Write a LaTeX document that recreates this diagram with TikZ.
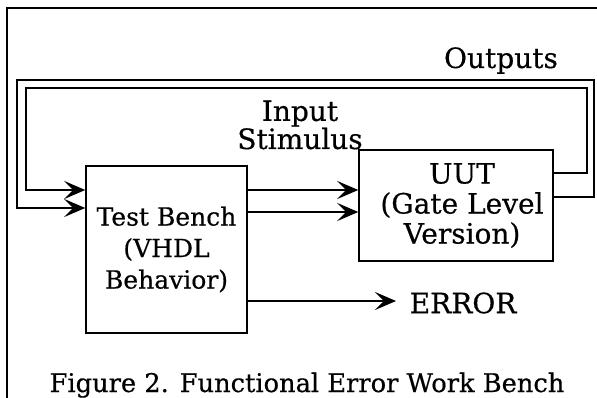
\documentclass[tikz,border=0pt]{standalone}
\usepackage{fontspec}
\setmainfont{DejaVu Serif}[UprightFeatures={FakeBold=0.5}]
\usetikzlibrary{arrows.meta}
\begin{document}
\begin{tikzpicture}[x=1pt,y=-1pt,
  line width=1.5pt,
  every node/.style={inner sep=0pt},
  box/.style={draw, align=center, font=\fontsize{28}{30}\selectfont},
  lbl/.style={align=center, font=\fontsize{28}{27}\selectfont},
  arr/.style={-{Stealth[length=21pt,width=18pt,inset=9pt]}}]
\useasboundingbox (0,0) rectangle (597,398);
% frame
\draw (7,398) -- (7,8) -- (597,8);
% boxes
\node[box, minimum width=161pt, minimum height=167pt, font=\fontsize{25}{31.5}\selectfont] (tb) at (166.5,249.5) {Test Bench\\(VHDL\\Behavior)};
\node[box, minimum width=194pt, minimum height=111pt] (uut) at (456,205.5) {\hspace*{12pt}UUT\\\hspace*{12pt}(Gate Level\\\hspace*{12pt}Version)};
% labels
\node[lbl, anchor=base] (outl) at (501,68) {Outputs};
\node[lbl, anchor=base] (inl) at (300,149) {Input\\Stimulus};
\node[lbl, anchor=west] (err) at (409,303) {ERROR};
\node[anchor=base, font=\fontsize{25.7}{27}\selectfont] (cap) at (307,392) {Figure 2. Functional Error Work Bench};
% coordinates
\coordinate (o1) at ([yshift=32.5pt]uut.east);
\coordinate (o2) at ([yshift=8.5pt]uut.east);
\coordinate (i1) at (26,190);
\coordinate (i2) at (17,208);
\coordinate (t1) at ([yshift=59.5pt]tb.east);
\coordinate (t2) at ([yshift=37.5pt]tb.east);
\coordinate (t3) at ([yshift=-51.5pt]tb.east);
% feedback loops
\draw[arr] (o1) -| (587,88) -| (i1) -- (i1 -| tb.west);
\draw[arr] (o2) -| (594,80) -| (i2) -- (i2 -| tb.west);
% stimulus
\draw[arr] (t1) -- (t1 -| uut.west);
\draw[arr] (t2) -- (t2 -| uut.west);
% error
\draw[arr] (t3) -- (396,301);
\end{tikzpicture}
\end{document}
